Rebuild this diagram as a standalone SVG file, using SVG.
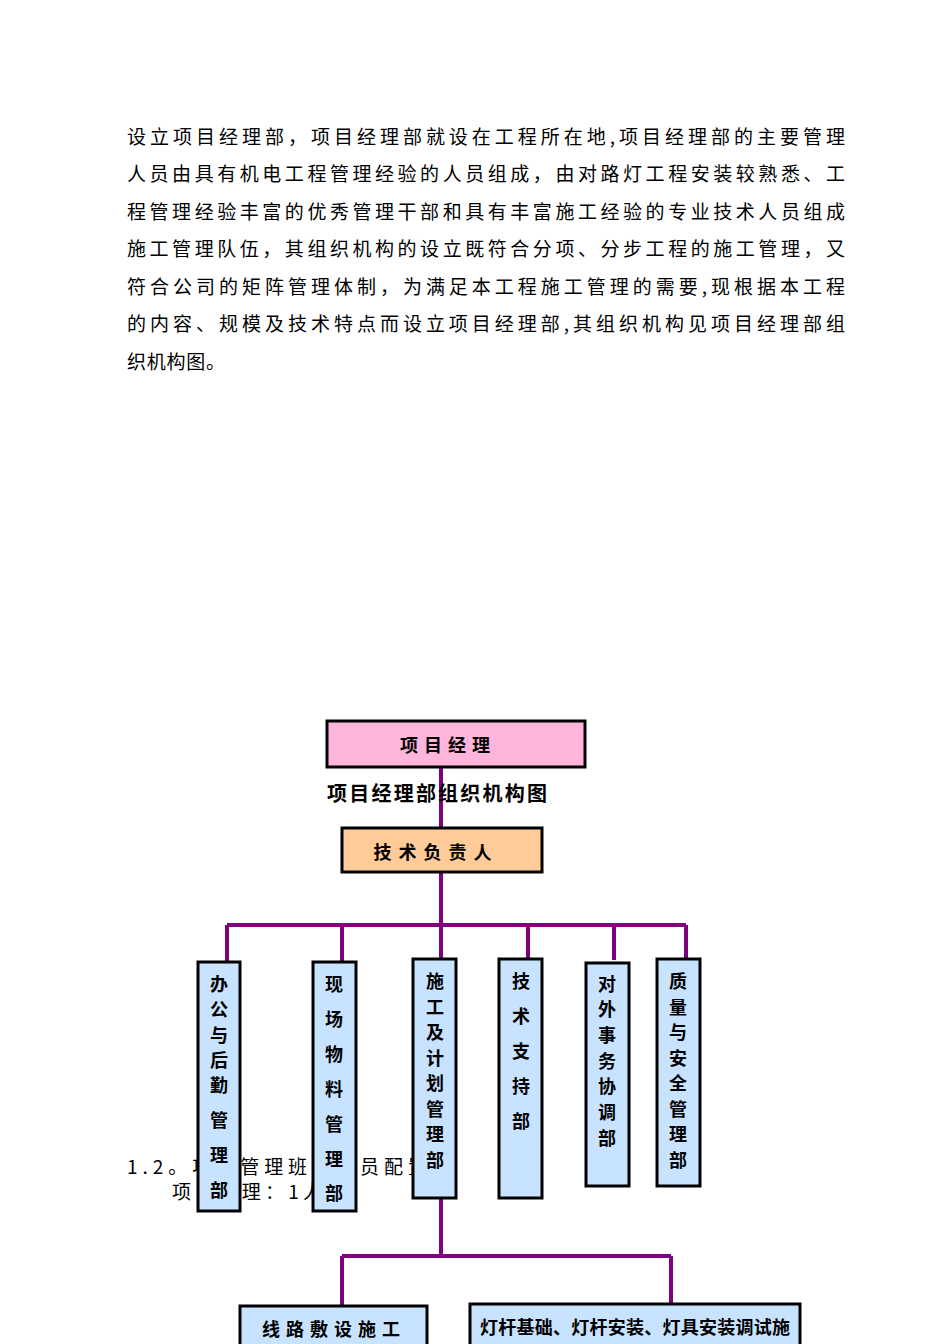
<svg xmlns="http://www.w3.org/2000/svg" width="950" height="1344" viewBox="0 0 950 1344">
<style>
.p{font-family:"Noto Sans CJK SC","Liberation Serif",serif;font-size:19px;fill:#000}
.n{stroke:#000;stroke-width:3}
.b{font-family:"Noto Sans CJK SC",sans-serif;font-size:18px;font-weight:bold;fill:#000;text-anchor:middle}
.c{stroke:#800080;stroke-width:4;fill:none}
</style>
<rect width="950" height="1344" fill="#fff"/>
<g id="para" class="p">
<text x="127" y="144" textLength="718" lengthAdjust="spacing">设立项目经理部，项目经理部就设在工程所在地,项目经理部的主要管理</text>
<text x="127" y="181" textLength="718" lengthAdjust="spacing">人员由具有机电工程管理经验的人员组成，由对路灯工程安装较熟悉、工</text>
<text x="127" y="219" textLength="718" lengthAdjust="spacing">程管理经验丰富的优秀管理干部和具有丰富施工经验的专业技术人员组成</text>
<text x="127" y="256" textLength="718" lengthAdjust="spacing">施工管理队伍，其组织机构的设立既符合分项、分步工程的施工管理，又</text>
<text x="127" y="294" textLength="718" lengthAdjust="spacing">符合公司的矩阵管理体制，为满足本工程施工管理的需要,现根据本工程</text>
<text x="127" y="331" textLength="718" lengthAdjust="spacing">的内容、规模及技术特点而设立项目经理部,其组织机构见项目经理部组</text>
<text x="127" y="369" textLength="98" lengthAdjust="spacing">织机构图。</text>
<text x="127" y="1174" textLength="300" lengthAdjust="spacing">1.2。项目管理班子人员配置</text>
<text x="172" y="1199" textLength="150" lengthAdjust="spacing">项目经理：1人</text>
</g>
<g id="connectors" class="c">
<path d="M441 767V925M227 925H686M227 925V962M342 925V962M441 925V959M528 925V959M614 925V960M686 925V959"/>
<path d="M441 1198V1256M342 1256H671M342 1256V1306M671 1256V1304"/>
</g>
<g id="pm"><rect x="327" y="721" width="258" height="46" fill="#FFB5DC" class="n"/><text class="b" x="448" y="752" letter-spacing="6">项目经理</text></g>
<text id="title" x="327" y="801" font-family="Noto Sans CJK SC,sans-serif" font-size="20" font-weight="bold" textLength="220" lengthAdjust="spacing">项目经理部组织机构图</text>
<g id="tech"><rect x="342" y="828" width="200" height="44" fill="#FFCC99" class="n"/><text class="b" x="436" y="859" letter-spacing="7">技术负责人</text></g>
<g id="d1"><rect x="198" y="962" width="42" height="249" fill="#C8E3FF" class="n"/>
<text class="b"><tspan x="219" y="991">办</tspan><tspan x="219" y="1016">公</tspan><tspan x="219" y="1042">与</tspan><tspan x="219" y="1067">后</tspan><tspan x="219" y="1092">勤</tspan><tspan x="219" y="1127">管</tspan><tspan x="219" y="1162">理</tspan><tspan x="219" y="1197">部</tspan></text></g>
<g id="d2"><rect x="313" y="962" width="43" height="249" fill="#C8E3FF" class="n"/>
<text class="b"><tspan x="334" y="991">现</tspan><tspan x="334" y="1026">场</tspan><tspan x="334" y="1061">物</tspan><tspan x="334" y="1096">料</tspan><tspan x="334" y="1131">管</tspan><tspan x="334" y="1166">理</tspan><tspan x="334" y="1200">部</tspan></text></g>
<g id="d3"><rect x="413" y="959" width="43" height="239" fill="#C8E3FF" class="n"/>
<text class="b"><tspan x="435" y="988">施</tspan><tspan x="435" y="1014">工</tspan><tspan x="435" y="1039">及</tspan><tspan x="435" y="1065">计</tspan><tspan x="435" y="1090">划</tspan><tspan x="435" y="1116">管</tspan><tspan x="435" y="1141">理</tspan><tspan x="435" y="1167">部</tspan></text></g>
<g id="d4"><rect x="499" y="959" width="43" height="239" fill="#C8E3FF" class="n"/>
<text class="b"><tspan x="521" y="988">技</tspan><tspan x="521" y="1023">术</tspan><tspan x="521" y="1058">支</tspan><tspan x="521" y="1093">持</tspan><tspan x="521" y="1128">部</tspan></text></g>
<g id="d5"><rect x="586" y="963" width="43" height="223" fill="#C8E3FF" class="n"/>
<text class="b"><tspan x="607" y="991">对</tspan><tspan x="607" y="1016">外</tspan><tspan x="607" y="1042">事</tspan><tspan x="607" y="1068">务</tspan><tspan x="607" y="1093">协</tspan><tspan x="607" y="1119">调</tspan><tspan x="607" y="1145">部</tspan></text></g>
<g id="d6"><rect x="657" y="959" width="43" height="227" fill="#C8E3FF" class="n"/>
<text class="b"><tspan x="678" y="988">质</tspan><tspan x="678" y="1014">量</tspan><tspan x="678" y="1039">与</tspan><tspan x="678" y="1065">安</tspan><tspan x="678" y="1090">全</tspan><tspan x="678" y="1116">管</tspan><tspan x="678" y="1141">理</tspan><tspan x="678" y="1167">部</tspan></text></g>
<g id="w1"><rect x="240" y="1306" width="187" height="44" fill="#C8E3FF" class="n"/><text class="b" x="334" y="1336" letter-spacing="6">线路敷设施工</text></g>
<g id="w2"><rect x="470" y="1304" width="330" height="46" fill="#C8E3FF" class="n"/><text class="b" x="635" y="1334" textLength="310" lengthAdjust="spacing">灯杆基础、灯杆安装、灯具安装调试施</text></g>
</svg>
